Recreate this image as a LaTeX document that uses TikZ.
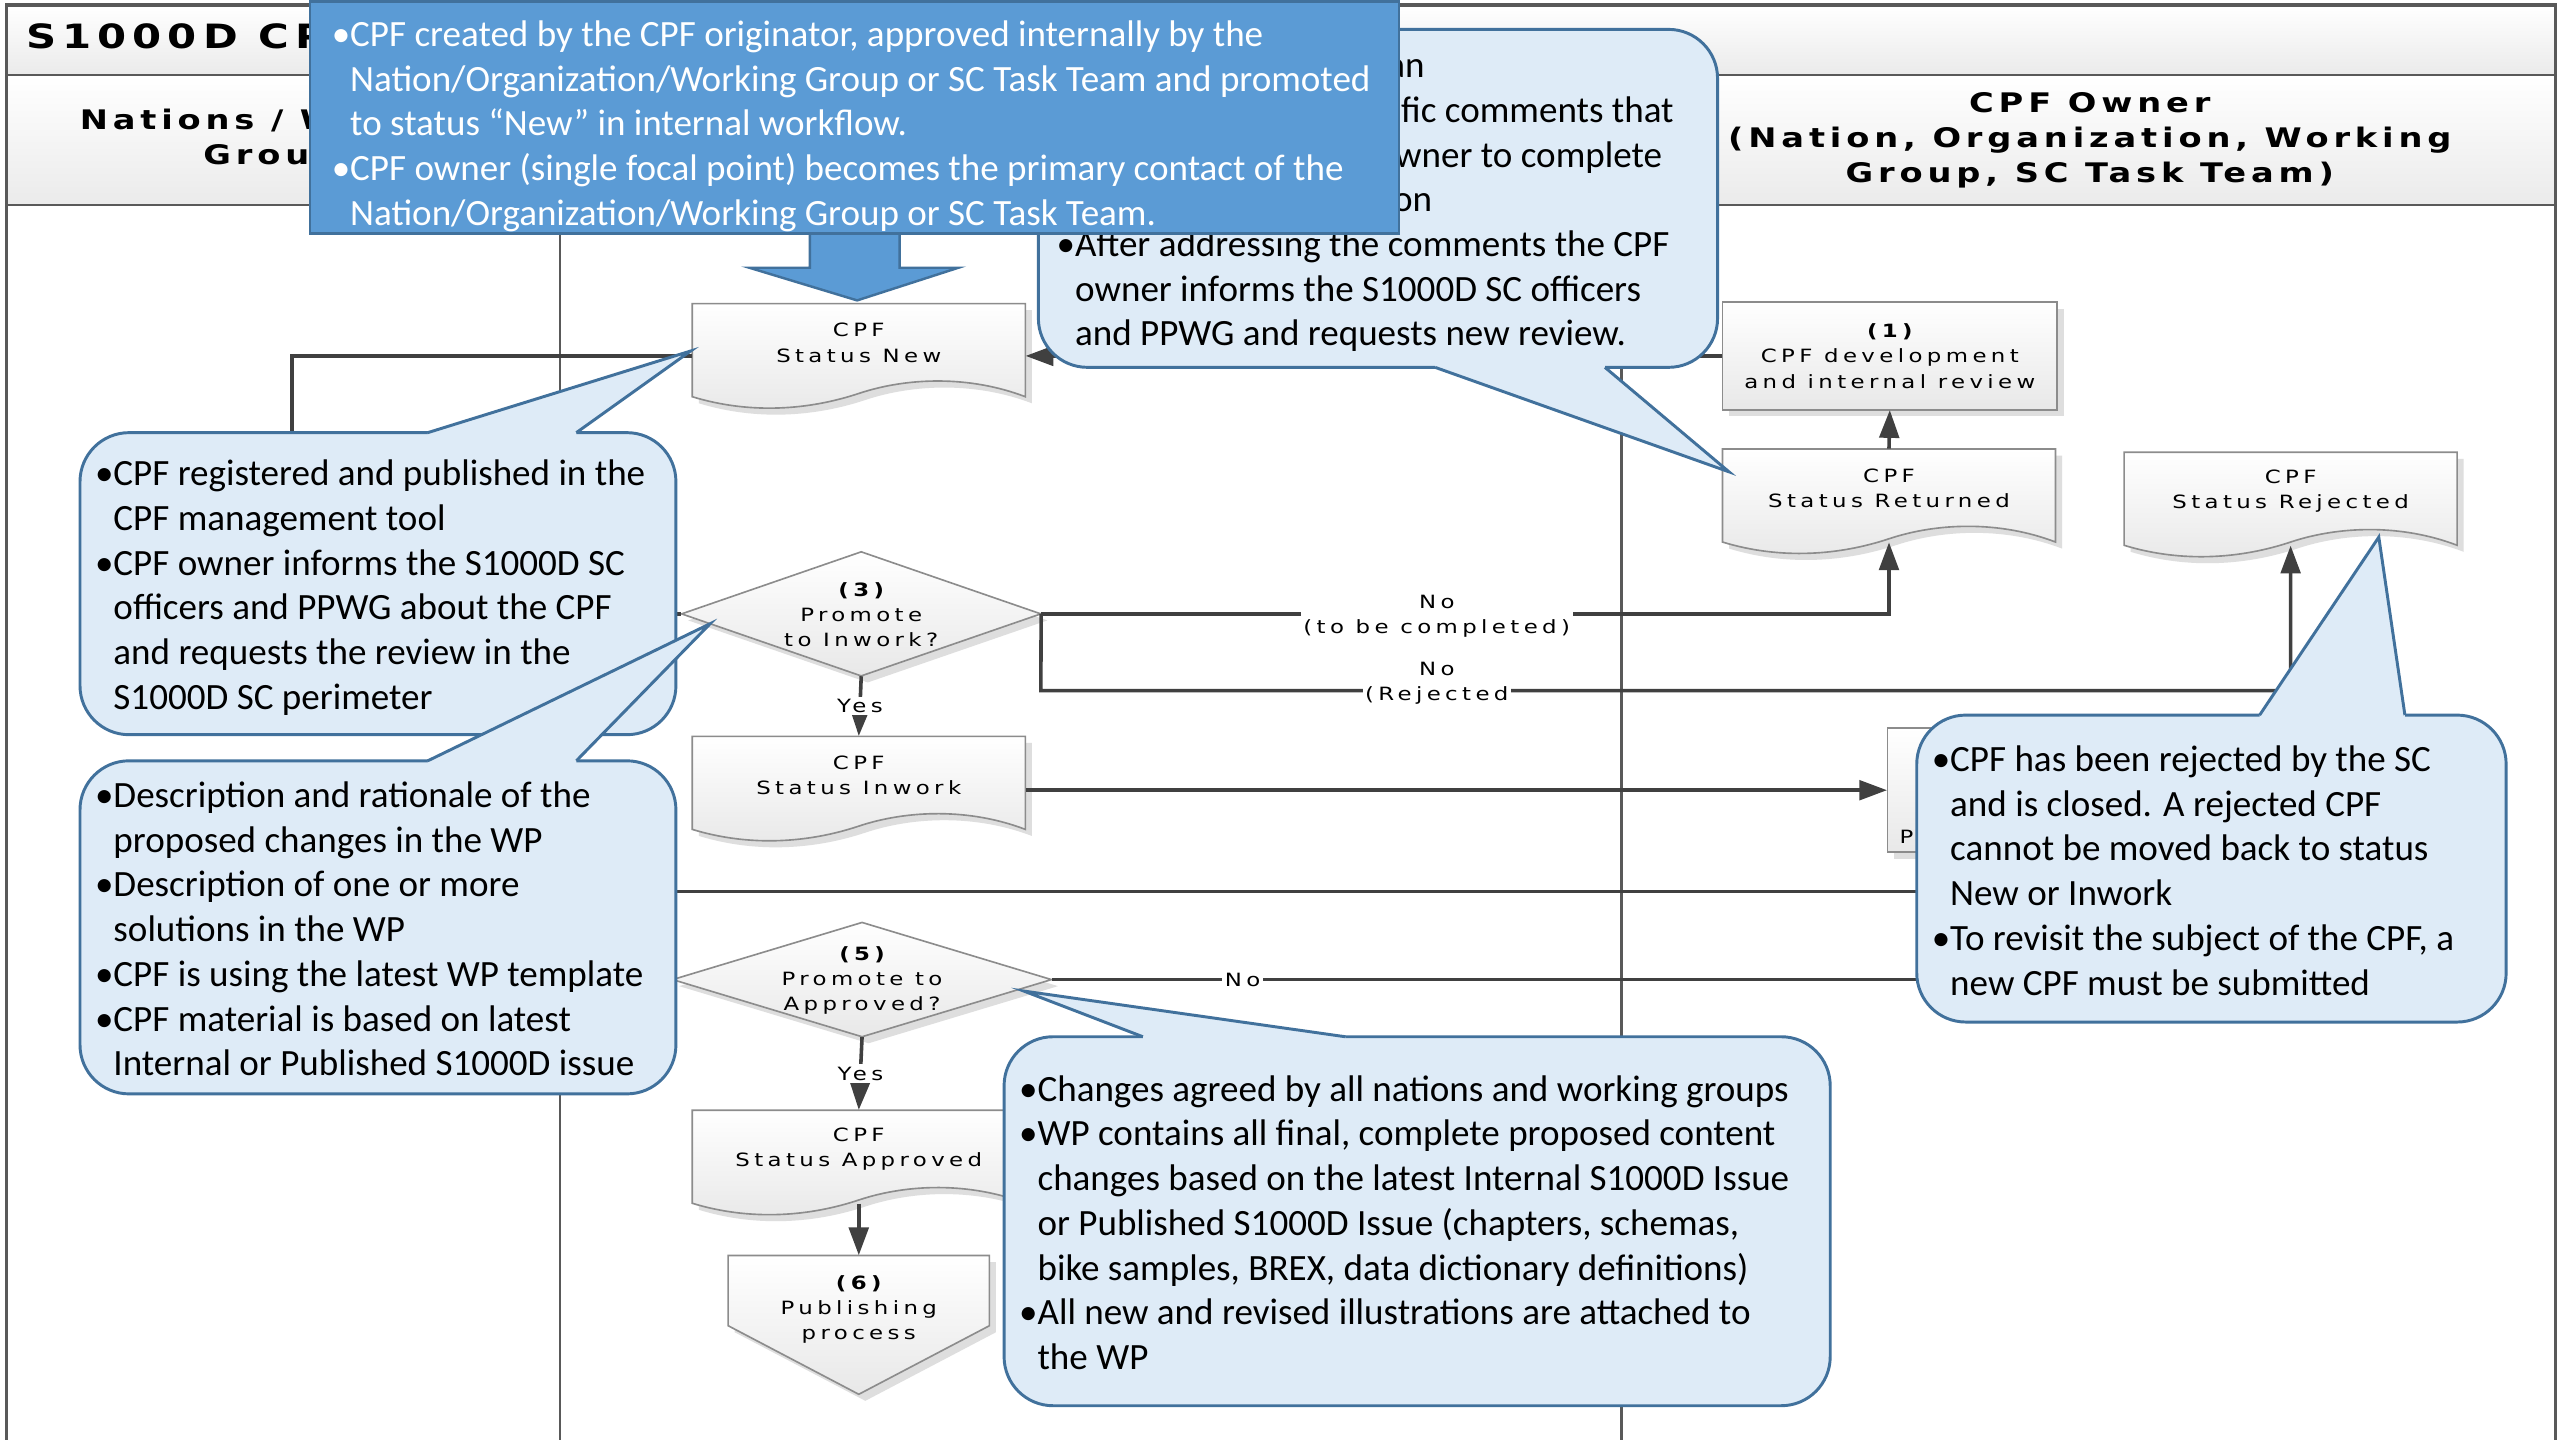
\documentclass[tikz,border=0pt]{standalone}
\usepackage{fontspec}
\setmainfont{Carlito}
\newfontfamily\vf[FakeStretch=1.25,LetterSpace=24]{DejaVu Sans}
\newfontfamily\vfh[FakeStretch=1.25,LetterSpace=18]{DejaVu Sans}
\usetikzlibrary{arrows.meta,calc}
\definecolor{bluedark}{HTML}{5B9BD5}
\definecolor{blueedge}{HTML}{41719C}
\definecolor{bluelight}{HTML}{DEEBF7}
\definecolor{linec}{HTML}{404040}
\definecolor{framec}{HTML}{595959}
\definecolor{shapeedge}{HTML}{8C8C8C}
\newcommand\cind{\hphantom{•}}
\newcommand\docshape[4]{%
 \begin{scope}[shift={(#2,#3)}]
  \fill[shadowc] (4,4) -- (208,4) -- (208,61) .. controls (174,48) and (136,49) .. (106,59) .. controls (76,69) and (40,72) .. (4,61) -- cycle;
  \shadedraw[shapebody] (0,0) -- (204,0) -- (204,57) .. controls (170,44) and (132,45) .. (102,55) .. controls (72,65) and (36,68) .. (0,57) -- cycle;
 \end{scope}
 \node[inner sep=0pt,minimum width=204pt,minimum height=64pt] (#1) at ({#2+102},{#3+32}) {};
 \node[stxt] (#1-t) at ({#2+102},{#3+24}) {#4};
}
\newcommand\procbox[6]{%
 \fill[shadowc] ({#2+4},{#3+4}) rectangle ({#2+#4+4},{#3+#5+4});
 \shadedraw[shapebody] (#2,#3) rectangle ({#2+#4},{#3+#5});
 \node[inner sep=0pt,minimum width={#4*1pt},minimum height={#5*1pt}] (#1) at ({#2+#4/2},{#3+#5/2}) {};
}
\newcommand\decision[6]{%
 \fill[shadowc] ({#2+4},{#3-#5+4}) -- ({#2+#4+4},{#3+4}) -- ({#2+4},{#3+#5+4}) -- ({#2-#4+4},{#3+4}) -- cycle;
 \shadedraw[shapebody] ({#2},{#3-#5}) -- ({#2+#4},{#3}) -- ({#2},{#3+#5}) -- ({#2-#4},{#3}) -- cycle;
 \node[inner sep=0pt,minimum width={2*#4*1pt},minimum height={2*#5*1pt}] (#1) at (#2,#3) {};
 \node[stxt] (#1-t) at (#2,{#3+0.5}) {#6};
}
\begin{document}
\begin{tikzpicture}[x=1pt,y=-1pt,
  conn/.style={draw=linec,line width=2.2pt},
  arr/.style={conn,-{Triangle[length=17pt,width=12pt]}},
  stxt/.style={font=\vf\fontsize{11.2pt}{15.5pt}\selectfont,align=center,inner sep=0pt},
  lbl/.style={font=\vf\fontsize{11.2pt}{15pt}\selectfont,align=center,fill=white,inner sep=1.5pt},
  hdr/.style={font=\vfh\bfseries\fontsize{16.5pt}{21.6pt}\selectfont,align=center,inner sep=0pt},
  ctext/.style={font=\fontsize{22.7pt}{27.4pt}\selectfont,align=left,inner sep=0pt,anchor=north west},
  callout/.style={fill=bluelight,draw=blueedge,line width=1.8pt,rounded corners=30pt},
  cedge/.style={draw=blueedge,line width=1.8pt},
  shapebody/.style={top color=white,bottom color=black!9,draw=shapeedge,line width=1pt},
  shadowc/.style={fill=black!13},
  lane/.style={draw=framec,line width=1.6pt}
]
\useasboundingbox (0,0) rectangle (1568,882);
\fill[white] (0,0) rectangle (1568,882);

% swimlane frame and headers
\shade[top color=white,bottom color=black!8] (4,3) rectangle (1565,46);
\shade[top color=white,bottom color=black!8] (4,46) rectangle (1565,125.5);
\draw[lane] (343,46) -- (343,890);
\draw[lane] (993,46) -- (993,890);
\draw[lane] (4,46) -- (1565,46);
\draw[lane] (4,125.5) -- (1565,125.5);
\draw[draw=framec,line width=2pt] (4,890) -- (4,3) -- (1565,3) -- (1565,890);
\node[font=\vfh\bfseries\fontsize{20.5pt}{22pt}\selectfont,anchor=west,inner sep=0pt] (title) at (16,24.5) {S1000D CPF process};
\node[hdr] (h1) at (173.5,85.7) {Nations / Working\\Groups};
\node[hdr] (h3) at (1280,86) {CPF Owner\\(Nation, Organization, Working\\Group, SC Task Team)};

% shapes
\docshape{sn}{424}{186}{CPF\\Status New}
\docshape{sin}{424}{451}{CPF\\Status Inwork}
\docshape{sa}{424}{680}{CPF\\Status Approved}
\docshape{sr}{1055}{275}{CPF\\Status Returned}
\docshape{srj}{1301}{277}{CPF\\Status Rejected}
\procbox{b1}{1055}{185}{205}{66}{}
\node[stxt] (b1-t) at (1157.5,218) {{\bfseries (1)}\\CPF development\\and internal review};
\procbox{b4}{1156}{446}{204}{76}{}
\node[stxt] (b4-t) at (1258,497) {{\bfseries (4)}\\CPF review by\\PPWG and SC officers};
\decision{d3}{527.5}{376}{110}{38}{{\bfseries (3)}\\Promote\\to Inwork?}
\decision{d5}{528}{600}{116}{35}{{\bfseries (5)}\\Promote to\\Approved?}
\fill[shadowc] (450,773) -- (610,773) -- (610,816) -- (530,858) -- (450,816) -- cycle;
\shadedraw[shapebody] (446,769) -- (606,769) -- (606,812) -- (526,854) -- (446,812) -- cycle;
\node[inner sep=0pt,minimum width=160pt,minimum height=85pt] (pub) at (526,811.5) {};
\node[stxt] (pub-t) at (526,802) {{\bfseries (6)}\\Publishing\\process};

% connectors
\draw[arr] (b1.west) -- (b1.west -| sn.east);
\draw[arr] (sr.north) -- (b1.south);
\draw[arr] (d3.east) -- (d3.east -| sr.south) -- ([yshift=7pt]sr.south);
\node[lbl] (l1) at (880,377.5) {No\\(to be completed)};
\coordinate (rj) at (637.5,423);
\draw[arr] (d3.east) -- (rj) -- (rj -| srj.south) -- ([yshift=7pt]srj.south);
\node[lbl] (l2) at (880,418.5) {No\\(Rejected};
\draw[arr] (d3.south) -- node[lbl] (y1) {Yes} (sin.north);
\draw[arr] (sin.east |- b4.west) -- (b4.west);
\coordinate (c1) at (179,300);
\draw[conn] (sn.west) -| (c1) |- (d3.west);
\coordinate (c2) at (179,546);
\draw[arr] (b4.south) |- (c2) |- (d5.west);
\coordinate (d5no) at (1250,600);
\draw[conn] (d5.east) -- node[lbl,pos=0.193] (n5) {No} (d5no);
\draw[arr] (d5.south) -- node[lbl] (y2) {Yes} (sa.north);
\draw[arr] ([yshift=7pt]sa.south) -- (pub.north);

% callout D
\draw[callout] (1174,438) rectangle (1535,626);
\fill[bluelight] (1384,441) -- (1384,438) -- (1457,329) -- (1473,438) -- (1473,441) -- cycle;
\draw[cedge] (1384,438) -- (1457,329) -- (1473,438);
\node[ctext] (dt) at (1183,455.3) {\rule{0pt}{17pt}•CPF has been rejected by the SC\\\cind and is closed. A rejected CPF\\\cind cannot be moved back to status\\\cind New or Inwork\\•To revisit the subject of the CPF, a\\\cind new CPF must be submitted};

% callout B
\draw[callout] (49,265) rectangle (414,450);
\fill[bluelight] (262,268) -- (262,265) -- (423,215) -- (353,265) -- (353,268) -- cycle;
\draw[cedge] (262,265) -- (423,215) -- (353,265);
\node[ctext] (bt1) at (58,280.3) {\rule{0pt}{17pt}•CPF registered and published in the\\\cind CPF management tool\\•CPF owner informs the S1000D SC\\\cind officers and PPWG about the CPF\\\cind and requests the review in the\\\cind S1000D SC perimeter};

% callout C
\draw[callout] (49,466) rectangle (414,670);
\fill[bluelight] (262,469) -- (262,466) -- (435,382) -- (353,466) -- (353,469) -- cycle;
\draw[cedge] (262,466) -- (435,382) -- (353,466);
\node[ctext] (ct) at (58,477.3) {\rule{0pt}{17pt}•Description and rationale of the\\\cind proposed changes in the WP\\•Description of one or more\\\cind solutions in the WP\\•CPF is using the latest WP template\\•CPF material is based on latest\\\cind Internal or Published S1000D issue};

% callout E
\draw[callout] (615,635) rectangle (1121,861);
\fill[bluelight] (700,638) -- (700,635) -- (627,607) -- (824,635) -- (824,638) -- cycle;
\draw[cedge] (700,635) -- (627,607) -- (824,635);
\node[ctext] (et) at (624,657.3) {\rule{0pt}{17pt}•Changes agreed by all nations and working groups\\•WP contains all final, complete proposed content\\\cind changes based on the latest Internal S1000D Issue\\\cind or Published S1000D Issue (chapters, schemas,\\\cind bike samples, BREX, data dictionary definitions)\\•All new and revised illustrations are attached to\\\cind the WP};

% callout A
\draw[callout] (636,18) rectangle (1052,225);
\fill[bluelight] (879,222) -- (879,225) -- (1059,289) -- (983,225) -- (983,222) -- cycle;
\draw[cedge] (879,225) -- (1059,289) -- (983,225);
\node[ctext] (at) at (647,30.3) {\rule{0pt}{17pt}•CPF is returned with an\\\cind explanation and specific comments that\\\cind still require the CPF owner to complete\\\cind the missing information\\•After addressing the comments the CPF\\\cind owner informs the S1000D SC officers\\\cind and PPWG and requests new review.};

% blue box and block arrow
\fill[bluedark] (496,140) -- (496,164) -- (459,164) -- (525,184) -- (587,164) -- (551,164) -- (551,140) -- cycle;
\draw[blueedge,line width=1.5pt,line join=miter] (496,143) -- (496,164) -- (459,164) -- (525,184) -- (587,164) -- (551,164) -- (551,143);
\filldraw[fill=bluedark,draw=blueedge,line width=1.5pt] (190,1) rectangle (857,143);
\node[ctext,text=white] (bx) at (203,11.3) {\rule{0pt}{17pt}•CPF created by the CPF originator, approved internally by the\\\cind Nation/Organization/Working Group or SC Task Team and promoted\\\cind to status “New” in internal workflow.\\•CPF owner (single focal point) becomes the primary contact of the\\\cind Nation/Organization/Working Group or SC Task Team.};
\end{tikzpicture}
\end{document}
